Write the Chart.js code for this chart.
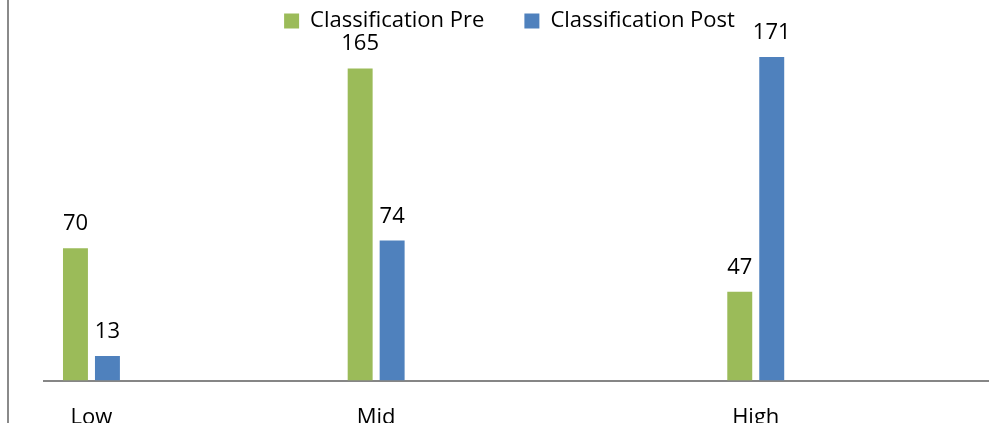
<!DOCTYPE html>
<html>
<head>
<meta charset="utf-8">
<script src="https://cdn.jsdelivr.net/npm/chart.js"></script>
<style>
  body { margin: 0; background: #fff; }
  #wrap { width: 989px; height: 423px; overflow: hidden; position: relative; }
</style>
</head>
<body>
<div id="wrap">
  <canvas id="myChart" width="995" height="465"></canvas>
</div>

<script>
    // empty slots keep the groups spaced out along the axis
    const categories = ['Low', '', '', 'Mid', '', '', '', 'High', '', ''];
    const preValues  = [70, null, null, 165, null, null, null, 47, null, null];
    const postValues = [13, null, null, 74, null, null, null, 171, null, null];
    const yMax = 180;

    Chart.defaults.font.family = "'Open Sans', sans-serif";
    Chart.defaults.font.size = 22;
    Chart.defaults.color = '#000';

    // thin frame line down the left side
    const frameLine = {
        id: 'frameLine',
        beforeDraw(chart) {
            const ctx = chart.ctx;
            ctx.save();
            ctx.strokeStyle = '#8a8a8a';
            ctx.lineWidth = 2;
            ctx.beginPath();
            ctx.moveTo(8, 0);
            ctx.lineTo(8, chart.height);
            ctx.stroke();
            ctx.restore();
        }
    };

    // value written above each bar
    const barValues = {
        id: 'barValues',
        afterDatasetsDraw(chart) {
            const ctx = chart.ctx;
            ctx.save();
            ctx.font = "22px 'Open Sans', sans-serif";
            ctx.fillStyle = '#000';
            ctx.textAlign = 'center';
            ctx.textBaseline = 'alphabetic';
            chart.data.datasets.forEach((ds, i) => {
                chart.getDatasetMeta(i).data.forEach((bar, j) => {
                    const v = ds.data[j];
                    if (v === null || v === undefined) return;
                    ctx.fillText(v, bar.x, bar.y - 18);
                });
            });
            ctx.restore();
        }
    };

    const ctx = document.getElementById('myChart');
    myChart = new Chart(ctx, {
        type: 'bar',
        data: {
            labels: categories,
            datasets: [{
                label: 'Classification Pre',
                data: preValues,
                backgroundColor: '#9BBB59',
                borderWidth: 0
            }, {
                label: 'Classification Post',
                data: postValues,
                backgroundColor: '#4F81BD',
                borderWidth: 0
            }]
        },
        options: {
            responsive: false,
            animation: false,
            devicePixelRatio: 1,
            categoryPercentage: 0.674,
            barPercentage: 0.78,
            layout: {
                padding: { top: -30, left: 26, right: 2, bottom: 10 }
            },
            plugins: {
                legend: {
                    position: 'top',
                    maxHeight: 70,
                    labels: {
                        boxWidth: 15,
                        boxHeight: 15,
                        padding: 40,
                        font: { size: 22 }
                    }
                },
                tooltip: { enabled: false }
            },
            scales: {
                x: {
                    grid: { display: false, drawTicks: false },
                    border: { color: '#868686', width: 2 },
                    ticks: { padding: 24, autoSkip: false, maxRotation: 0 }
                },
                y: {
                    min: 0,
                    max: yMax,
                    grid: { display: false },
                    border: { display: false },
                    ticks: { display: false },
                    afterFit(axis) { axis.width = 18; }
                }
            }
        },
        plugins: [frameLine, barValues]
    });
</script>
</body>
</html>
